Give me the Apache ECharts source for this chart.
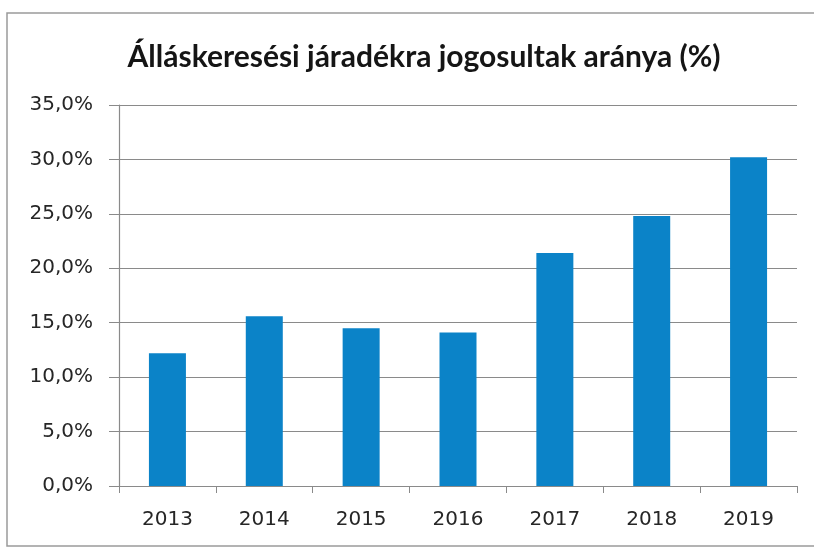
<!DOCTYPE html>
<html>
<head>
<meta charset="utf-8">
<script src="https://cdn.jsdelivr.net/npm/echarts@6/dist/echarts.min.js"></script>
<style>html,body{margin:0;padding:0;background:#fff;}#c{width:814px;height:549px;}</style>
</head>
<body>
<div id="c"></div>
<script>
const title = 'Álláskeresési járadékra jogosultak aránya (%)';
const years = ['2013', '2014', '2015', '2016', '2017', '2018', '2019'];
const shares = [12.2, 15.6, 14.5, 14.1, 21.4, 24.8, 30.2];
const yMin = 0, yMax = 35, yStep = 5;

const chart = echarts.init(document.getElementById('c'), null, {renderer: 'canvas'});
chart.setOption({
  backgroundColor: '#fff',
  animation: false,
  title: {
    text: title, left: 419, top: 37, textAlign: 'center',
    textStyle: {fontFamily: 'Lato', fontWeight: 'bold', fontSize: 30, color: '#151515'}
  },
  graphic: [{
    type: 'rect', shape: {x: 7, y: 13, width: 820, height: 533},
    style: {fill: 'none', stroke: '#9a9a9a', lineWidth: 1.5}, silent: true
  }],
  grid: {left: 119, right: 17, top: 105, bottom: 63},
  xAxis: {
    type: 'category', data: years,
    axisLine: {lineStyle: {color: '#8a8a8a', width: 1.2}},
    axisTick: {show: true, alignWithLabel: false, length: 7, lineStyle: {color: '#8a8a8a'}},
    axisLabel: {fontFamily: 'DejaVu Sans', fontSize: 20, color: '#262626', margin: 24}
  },
  yAxis: {
    type: 'value', min: yMin, max: yMax, interval: yStep,
    axisLine: {show: true, lineStyle: {color: '#8a8a8a', width: 1.2}},
    axisTick: {show: true, length: 10, lineStyle: {color: '#8a8a8a'}},
    splitLine: {lineStyle: {color: '#8a8a8a', width: 1.2}},
    axisLabel: {
      fontFamily: 'DejaVu Sans', fontSize: 20, color: '#262626', margin: 26,
      formatter: v => v.toFixed(1).replace('.', ',') + '%'
    }
  },
  series: [{
    type: 'bar', data: shares, barWidth: 37,
    itemStyle: {color: '#0b83c8'}
  }]
});
</script>
</body>
</html>
